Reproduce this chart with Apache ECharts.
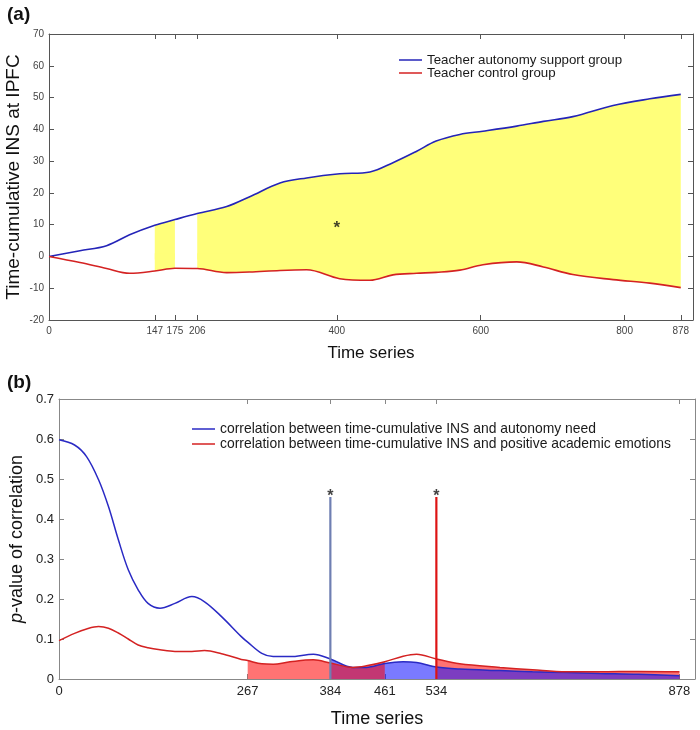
<!DOCTYPE html>
<html>
<head>
<meta charset="utf-8">
<script src="https://cdn.jsdelivr.net/npm/echarts@6/dist/echarts.min.js"></script>
<style>
  html, body { margin: 0; padding: 0; background: #fff; }
  #main { width: 700px; height: 730px; }
</style>
</head>
<body>
<div id="main"></div>
<script>
// panel (a): time-cumulative INS
var topX       = [0, 43, 80, 112, 147, 175, 206, 247, 279, 321, 358, 404, 446, 478, 511, 538, 571, 603, 650, 687, 728, 784, 835, 878];
var topSupport = [0, 1.8, 3.4, 6.8, 9.8, 11.6, 13.5, 15.7, 18.8, 23.1, 24.7, 26.0, 26.6, 29.5, 33.1, 36.3, 38.4, 39.4, 41.0, 42.5, 44.0, 47.5, 49.6, 51.0];
var topControl = [0, -1.9, -3.8, -5.3, -4.6, -3.7, -3.8, -5.1, -4.9, -4.4, -4.2, -7.0, -7.5, -5.8, -5.3, -5.0, -4.3, -2.6, -1.7, -3.3, -5.7, -7.3, -8.4, -9.8];
var topTicks = [0, 147, 175, 206, 400, 600, 800, 878];
var topFill = [[147, 175], [206, 878]];
var topStar = [[400, 10]];

// panel (b): p-values of correlation
var botX       = [0, 22, 39, 56, 70, 84, 98, 112, 126, 143, 164, 188, 206, 230, 258, 267, 287, 303, 327, 360, 384, 416, 435, 461, 487, 506, 534, 567, 624, 670, 718, 765, 820, 878];
var botNeed    = [0.598, 0.585, 0.556, 0.498, 0.431, 0.348, 0.273, 0.223, 0.189, 0.177, 0.189, 0.206, 0.193, 0.156, 0.106, 0.092, 0.064, 0.056, 0.056, 0.062, 0.050, 0.029, 0.029, 0.039, 0.043, 0.041, 0.030, 0.025, 0.021, 0.018, 0.016, 0.014, 0.012, 0.008];
var botEmotion = [0.096, 0.114, 0.125, 0.131, 0.127, 0.115, 0.100, 0.085, 0.078, 0.073, 0.069, 0.069, 0.071, 0.063, 0.049, 0.046, 0.038, 0.037, 0.043, 0.048, 0.040, 0.029, 0.033, 0.043, 0.057, 0.062, 0.050, 0.038, 0.029, 0.023, 0.018, 0.018, 0.019, 0.018];
var botTicks = [0, 267, 384, 461, 534, 878];
var needFill = [[384, 534], [534, 878]];
var emotionFill = [[267, 461], [534, 878]];
var sigX = [384, 534];
var sigTop = 0.455;

var FONT = 'Liberation Sans, Arial, sans-serif';
var BLUE = '#2424b8';
var RED = '#d42222';

function pairs(xs, ys, lo, hi) {
    return xs.map(function (x, i) { return [x, ys[i]]; })
             .filter(function (p) { return p[0] >= lo && p[0] <= hi; });
}

// MATLAB style box: ticks inside on all four sides
function boxX(grid, max, ticks, lineColor, label, name, nameGap, nameSize) {
    return [{
        type: 'value', gridIndex: grid, min: 0, max: max, position: 'bottom',
        axisLine: {show: true, onZero: false, lineStyle: {color: lineColor, width: 1}},
        axisTick: {show: true, inside: true, length: 5, customValues: ticks, lineStyle: {color: lineColor}},
        axisLabel: Object.assign({customValues: ticks, margin: 6}, label),
        splitLine: {show: false},
        name: name, nameLocation: 'middle', nameGap: nameGap, nameMoveOverlap: false,
        nameTextStyle: {fontFamily: FONT, fontSize: nameSize, color: '#111'}
    }, {
        type: 'value', gridIndex: grid, min: 0, max: max, position: 'top',
        axisLine: {show: true, onZero: false, lineStyle: {color: lineColor, width: 1}},
        axisTick: {show: true, inside: true, length: 5, customValues: ticks, lineStyle: {color: lineColor}},
        axisLabel: {show: false},
        splitLine: {show: false}
    }];
}

function boxY(grid, min, max, step, lineColor, label, name, nameGap, nameSize) {
    return [{
        type: 'value', gridIndex: grid, min: min, max: max, interval: step, position: 'left',
        axisLine: {show: true, onZero: false, lineStyle: {color: lineColor, width: 1}},
        axisTick: {show: true, inside: true, length: 5, lineStyle: {color: lineColor}},
        axisLabel: Object.assign({margin: 5}, label),
        splitLine: {show: false},
        name: name, nameLocation: 'middle', nameGap: nameGap, nameMoveOverlap: false,
        nameTextStyle: {fontFamily: FONT, fontSize: nameSize, color: '#111',
            rich: {i: {fontFamily: FONT, fontSize: nameSize, fontStyle: 'italic', color: '#111'}}}
    }, {
        type: 'value', gridIndex: grid, min: min, max: max, interval: step, position: 'right',
        axisLine: {show: true, onZero: false, lineStyle: {color: lineColor, width: 1}},
        axisTick: {show: true, inside: true, length: 5, lineStyle: {color: lineColor}},
        axisLabel: {show: false},
        splitLine: {show: false}
    }];
}

var smallLabel = {fontFamily: 'Liberation Sans Narrow, ' + FONT, fontSize: 10, color: '#444'};
var midLabel = {fontFamily: FONT, fontSize: 13, color: '#222'};

var xAxes = boxX(0, 895, topTicks, '#555', smallLabel, 'Time series', 25, 17)
    .concat(boxX(1, 900, botTicks, '#888', midLabel, 'Time series', 31, 18));
var yAxes = boxY(0, -20, 70, 10, '#555', smallLabel, 'Time-cumulative INS at IPFC', 26, 19)
    .concat(boxY(1, 0, 0.7, 0.1, '#888', midLabel, '{i|p}-value of correlation', 33, 18));

var series = [];

// yellow band between the two groups (upper half under blue, lower half above red)
topFill.forEach(function (r) {
    series.push({
        type: 'line', xAxisIndex: 0, yAxisIndex: 0, smooth: 0.35, symbol: 'none', silent: true,
        data: pairs(topX, topSupport, r[0], r[1]),
        lineStyle: {width: 0}, areaStyle: {color: '#ffff7a', opacity: 1, origin: -1}, z: 1
    });
    series.push({
        type: 'line', xAxisIndex: 0, yAxisIndex: 0, smooth: 0.35, symbol: 'none', silent: true,
        data: pairs(topX, topControl, r[0], r[1]),
        lineStyle: {width: 0}, areaStyle: {color: '#ffff7a', opacity: 1, origin: 1}, z: 1
    });
});

series.push({
    name: 'Teacher autonomy support group', type: 'line', xAxisIndex: 0, yAxisIndex: 0,
    smooth: 0.35, symbol: 'none', data: pairs(topX, topSupport, 0, 900),
    lineStyle: {color: BLUE, width: 1.6}, itemStyle: {color: BLUE}, z: 3
});
series.push({
    name: 'Teacher control group', type: 'line', xAxisIndex: 0, yAxisIndex: 0,
    smooth: 0.35, symbol: 'none', data: pairs(topX, topControl, 0, 900),
    lineStyle: {color: RED, width: 1.6}, itemStyle: {color: RED}, z: 3
});
series.push({
    type: 'scatter', xAxisIndex: 0, yAxisIndex: 0, data: topStar, symbolSize: 1,
    itemStyle: {color: 'transparent'}, silent: true, z: 4,
    label: {show: true, position: 'inside', formatter: '*', offset: [0, 4],
        fontFamily: FONT, fontSize: 17, fontWeight: 'bold', color: '#111'}
});

// panel (b) fills, drawn in layer order
function fillArea(xs, ys, r, color, op) {
    series.push({
        type: 'line', xAxisIndex: 2, yAxisIndex: 2, smooth: 0.35, symbol: 'none', silent: true,
        data: pairs(xs, ys, r[0], r[1]),
        lineStyle: {width: 0}, areaStyle: {color: color, opacity: op}, z: 1
    });
}
fillArea(botX, botNeed, needFill[0], '#0000ff', 0.52);
fillArea(botX, botEmotion, emotionFill[0], '#ff0000', 0.55);
fillArea(botX, botEmotion, emotionFill[1], '#ff0000', 0.55);
fillArea(botX, botNeed, needFill[1], '#1010ff', 0.55);

series.push({
    name: 'correlation between time-cumulative INS and autonomy need', type: 'line',
    xAxisIndex: 2, yAxisIndex: 2, smooth: 0.35, symbol: 'none', data: pairs(botX, botNeed, 0, 900),
    lineStyle: {color: '#2a2ac4', width: 1.5}, itemStyle: {color: '#2a2ac4'}, z: 3
});
series.push({
    name: 'correlation between time-cumulative INS and positive academic emotions', type: 'line',
    xAxisIndex: 2, yAxisIndex: 2, smooth: 0.35, symbol: 'none', data: pairs(botX, botEmotion, 0, 900),
    lineStyle: {color: RED, width: 1.5}, itemStyle: {color: RED}, z: 3
});

// significance markers
var sigColors = ['#6f7fb2', '#dd1414'];
sigX.forEach(function (x, i) {
    series.push({
        type: 'line', xAxisIndex: 2, yAxisIndex: 2, symbol: 'none', silent: true,
        data: [[x, 0], [x, sigTop]],
        lineStyle: {color: sigColors[i], width: 2.2}, z: 4
    });
    series.push({
        type: 'scatter', xAxisIndex: 2, yAxisIndex: 2, data: [[x, sigTop]], symbolSize: 1,
        itemStyle: {color: 'transparent'}, silent: true, z: 5,
        label: {show: true, position: 'top', distance: 0, formatter: '*', offset: [0, 8],
            fontFamily: FONT, fontSize: 16, fontWeight: 'bold', color: '#111'}
    });
});

var legendText = {fontFamily: FONT, fontSize: 13.3, color: '#1a1a1a', lineHeight: 13};

var option = {
    backgroundColor: '#fff',
    animation: false,
    title: [{
        text: '{n|(}{b|a}{n|)}', left: 2, top: 0,
        textStyle: {rich: {
            n: {fontFamily: FONT, fontSize: 19, color: '#111'},
            b: {fontFamily: FONT, fontSize: 19, fontWeight: 'bold', color: '#111'}}}
    }, {
        text: '{n|(}{b|b}{n|)}', left: 2, top: 368,
        textStyle: {rich: {
            n: {fontFamily: FONT, fontSize: 19, color: '#111'},
            b: {fontFamily: FONT, fontSize: 19, fontWeight: 'bold', color: '#111'}}}
    }],
    legend: [{
        left: 394, top: 48.5, orient: 'vertical', itemGap: 0, itemWidth: 23, itemHeight: 1.5,
        icon: 'rect', textStyle: legendText, selectedMode: false,
        data: ['Teacher autonomy support group', 'Teacher control group']
    }, {
        left: 187, top: 417, orient: 'vertical', itemGap: 1, itemWidth: 23, itemHeight: 1.5,
        icon: 'rect', textStyle: Object.assign({}, legendText, {fontSize: 13.9}), selectedMode: false,
        data: ['correlation between time-cumulative INS and autonomy need',
               'correlation between time-cumulative INS and positive academic emotions']
    }],
    grid: [
        {left: 49, right: 7, top: 34, bottom: 410, outerBoundsMode: 'none', containLabel: false},
        {left: 59, right: 5, top: 399, bottom: 51, outerBoundsMode: 'none', containLabel: false}
    ],
    xAxis: xAxes,
    yAxis: yAxes,
    series: series
};

var chart = echarts.init(document.getElementById('main'));
chart.setOption(option);
</script>
</body>
</html>
